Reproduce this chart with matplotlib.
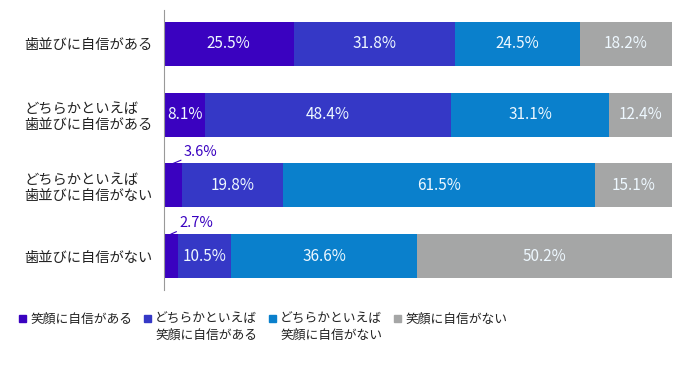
#!/usr/bin/env python3

import matplotlib
matplotlib.use("Agg")
import matplotlib.pyplot as plt
from matplotlib.patches import Rectangle
import numpy as np

plt.rcParams['font.family'] = ['Noto Sans CJK JP', 'DejaVu Sans']

categories = ["歯並びに自信がある",
              "どちらかといえば\n歯並びに自信がある",
              "どちらかといえば\n歯並びに自信がない",
              "歯並びに自信がない"]
series_names = ["笑顔に自信がある",
                "どちらかといえば\n笑顔に自信がある",
                "どちらかといえば\n笑顔に自信がない",
                "笑顔に自信がない"]
confident = [25.5, 8.1, 3.6, 2.7]
rather_confident = [31.8, 48.4, 19.8, 10.5]
rather_not = [24.5, 31.1, 61.5, 36.6]
not_confident = [18.2, 12.4, 15.1, 50.2]

colors = ["#3a02c0", "#3538c6", "#0a80cc", "#a5a6a6"]

W, H = 693, 368
fig = plt.figure(figsize=(W / 100, H / 100), dpi=100)
ax = fig.add_axes([164/W, 1 - 290/H, 508/W, 280/H])

series = [confident, rather_confident, rather_not, not_confident]
y = np.arange(len(categories))
left = np.zeros(len(categories))
for vals, name, col in zip(series, series_names, colors):
    vals = np.array(vals)
    ax.barh(y, vals, left=left, height=0.62, color=col, label=name)
    for yi, (l, v) in enumerate(zip(left, vals)):
        if v < 5:
            # small values: label above the bar with a leader line
            ax.annotate(f"{v}%", xy=(l + v / 2, yi - 0.31),
                        xytext=(l + v + 0.3, yi - 0.47),
                        ha='left', va='center', fontsize=10.5, color="#3a02c0",
                        arrowprops=dict(arrowstyle='-', color="#3a02c0", lw=0.8,
                                        shrinkA=0, shrinkB=0))
        else:
            ax.text(l + v / 2, yi, f"{v}%", ha='center', va='center',
                    fontsize=11, color="#eef8ff")
    left += vals

ax.set_xlim(0, 100)
ax.set_ylim(3.48, -0.48)
ax.set_yticks(y)
ax.set_yticklabels(categories, fontsize=10.3, multialignment='left', color="#222222")
ax.tick_params(axis='y', length=0, pad=8)
ax.set_xticks([])
for s in ['top', 'right', 'bottom']:
    ax.spines[s].set_visible(False)
ax.spines['left'].set_color("#999999")

# legend: square aligned with first text line
for i, (name, col) in enumerate(zip(series_names, colors)):
    x0 = 19 + 125 * i
    fig.add_artist(Rectangle((x0 / W, 1 - 322 / H), 7 / W, 7 / H,
                             transform=fig.transFigure, color=col))
    fig.text((x0 + 11) / W, 1 - 313 / H, name, ha='left', va='top',
             fontsize=9.2, linespacing=1.3, color="#222222")

fig.savefig('out.png', dpi=100)
